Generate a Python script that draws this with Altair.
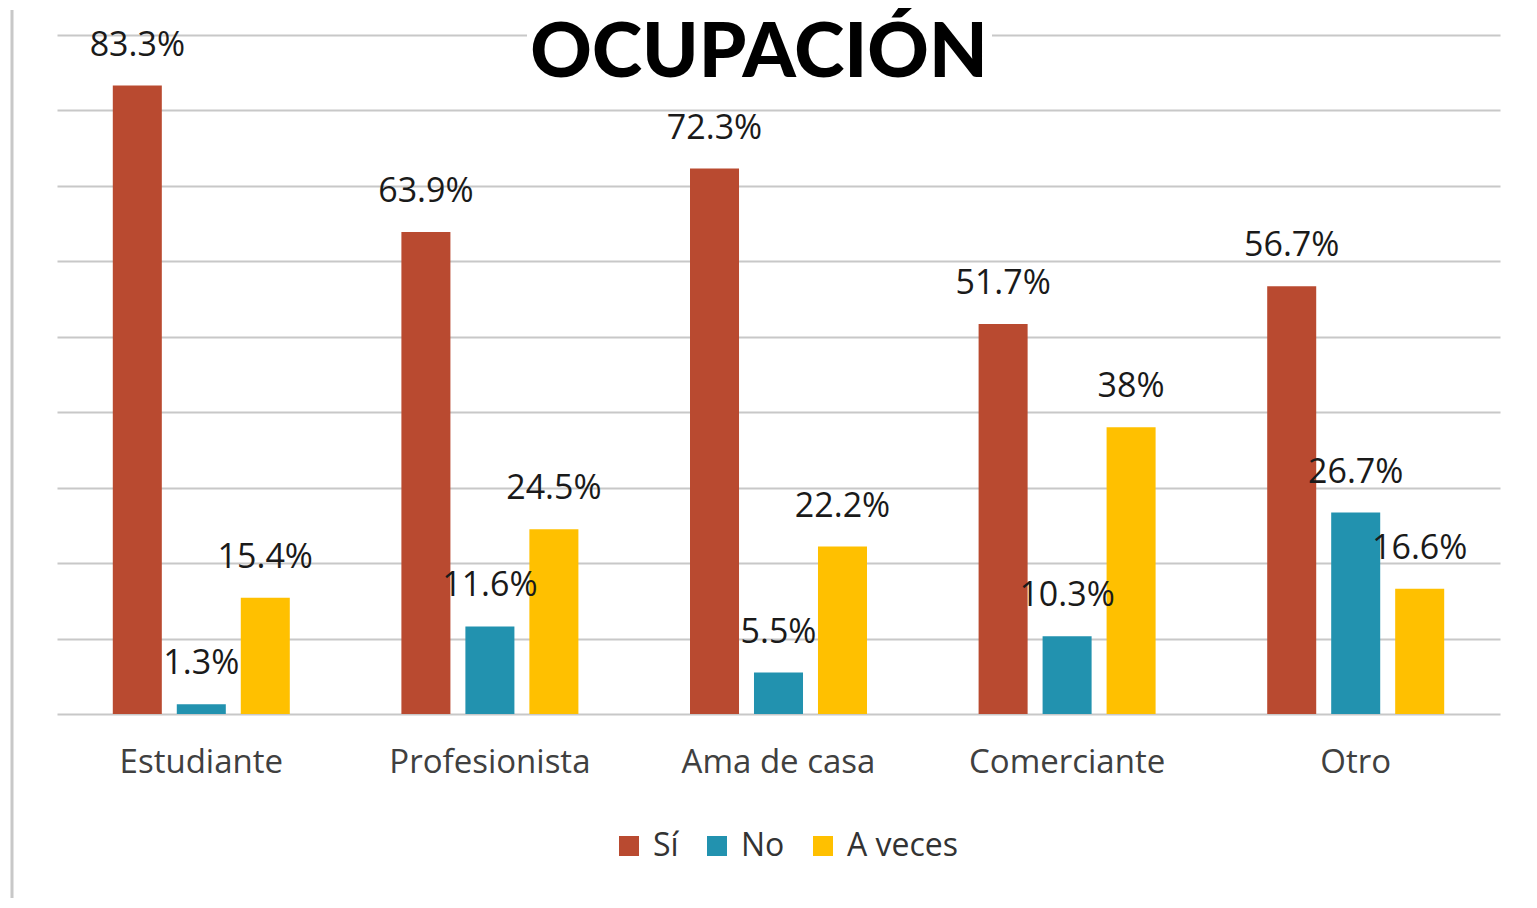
import altair as alt
import pandas as pd

categorias = ["Estudiante", "Profesionista", "Ama de casa", "Comerciante", "Otro"]
series = ["Sí", "No", "A veces"]
si = [83.3, 63.9, 72.3, 51.7, 56.7]
no = [1.3, 11.6, 5.5, 10.3, 26.7]
a_veces = [15.4, 24.5, 22.2, 38, 16.6]
etiquetas_si = ["83.3%", "63.9%", "72.3%", "51.7%", "56.7%"]
etiquetas_no = ["1.3%", "11.6%", "5.5%", "10.3%", "26.7%"]
etiquetas_av = ["15.4%", "24.5%", "22.2%", "38%", "16.6%"]
colores = ["#B94A30", "#2292AF", "#FFC000"]
titulo = "OCUPACIÓN"

rows = []
for vals, labs, s in [(si, etiquetas_si, "Sí"), (no, etiquetas_no, "No"), (a_veces, etiquetas_av, "A veces")]:
    for c, v, l in zip(categorias, vals, labs):
        rows.append({"Ocupación": c, "Respuesta": s, "Valor": v, "Etiqueta": l})
df = pd.DataFrame(rows)

FONT = "Open Sans"
W, H = 1443, 679

x_enc = alt.X("Ocupación:N", sort=categorias,
              scale=alt.Scale(paddingInner=0, paddingOuter=0),
              axis=alt.Axis(title=None, labelAngle=0, ticks=False, domain=False,
                            labelFont=FONT, labelFontSize=33, labelColor="#404040",
                            labelBaseline="middle", labelPadding=48, grid=False,
                            labelLimit=400))
xo_enc = alt.XOffset("Respuesta:N", sort=series,
                     scale=alt.Scale(paddingInner=0.234, paddingOuter=0.872))
y_enc = alt.Y("Valor:Q", scale=alt.Scale(domain=[0, 90], nice=False),
              axis=alt.Axis(title=None, labels=False, ticks=False, domain=False,
                            values=list(range(0, 100, 10)), gridColor="#C8C8C8",
                            gridWidth=2))

base = alt.Chart(df)

bars = base.mark_bar().encode(
    x=x_enc, xOffset=xo_enc, y=y_enc,
    color=alt.Color("Respuesta:N", sort=series,
                    scale=alt.Scale(domain=series, range=colores),
                    legend=alt.Legend(title=None, orient="none", direction="horizontal",
                                      legendX=556, legendY=795,
                                      symbolType="square", symbolSize=400,
                                      symbolStrokeWidth=0, labelFont=FONT,
                                      labelFontSize=32, labelColor="#333333",
                                      labelOffset=8, columnPadding=22)),
)

labels = base.mark_text(font=FONT, fontSize=34, color="#1a1a1a", baseline="middle",
                        dy=-40).encode(
    x=alt.X("Ocupación:N", sort=categorias), xOffset=alt.XOffset("Respuesta:N", sort=series),
    y="Valor:Q", text="Etiqueta:N",
)

title_bg = alt.Chart(pd.DataFrame({"t": [titulo]})).mark_rect(color="white").encode(
    x=alt.value(470), x2=alt.value(935), y=alt.value(-12), y2=alt.value(48))

title_txt = alt.Chart(pd.DataFrame({"t": [titulo]})).mark_text(
    font="Lato", fontWeight=900, fontSize=76, color="black", baseline="middle",
    align="center").encode(x=alt.value(702), y=alt.value(19), text="t:N")

frame = alt.Chart(pd.DataFrame({"t": [titulo]})).mark_rule(color="#C8C8C8", strokeWidth=3).encode(
    x=alt.value(-45), y=alt.value(-25), y2=alt.value(900))

chart = alt.layer(frame, bars, labels, title_bg, title_txt).properties(
    width=W, height=H,
    padding={"left": 49, "top": 27, "right": 20, "bottom": 184},
    autosize=alt.AutoSizeParams(type="none"),
    background="white",
).configure_view(strokeWidth=0, stroke="transparent")

chart.save("out.html", embed_options={"renderer": "svg", "actions": False})
